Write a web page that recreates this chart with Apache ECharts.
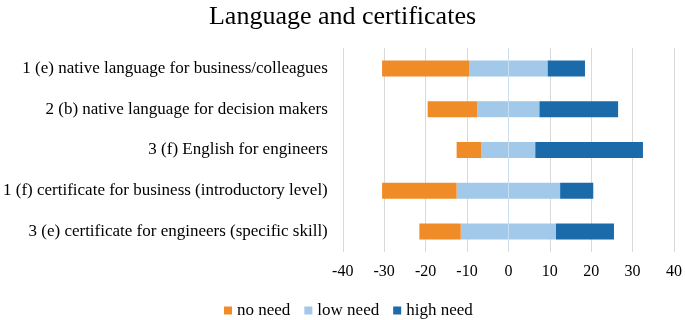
<!DOCTYPE html>
<html>
<head>
<meta charset="utf-8">
<script src="https://cdn.jsdelivr.net/npm/echarts@6/dist/echarts.min.js"></script>
<style>html,body{margin:0;padding:0;background:#fff}#c{width:685px;height:320px}</style>
</head>
<body>
<div id="c"></div>
<script>
var categories = [
  '1 (e) native language for business/colleagues',
  '2 (b) native language for decision makers',
  '3 (f) English for engineers',
  '1 (f) certificate for business (introductory level)',
  '3 (e) certificate for engineers (specific skill)'
];
var noNeed = [21, 12, 6, 18, 10];
var lowNeed = [19, 15, 13, 25, 23];
var highNeed = [9, 19, 26, 8, 14];
var tickValues = [-40, -30, -20, -10, 0, 10, 20, 30, 40];

var FONT = '"Liberation Serif", "DejaVu Serif", serif';
var C_NO = '#F08C28', C_LOW = '#A3C9EA', C_HIGH = '#1B6AAA';

var lowLeft = lowNeed.map(function (v) { return -v / 2; });
var lowRight = lowNeed.map(function (v) { return v / 2; });
var noNeg = noNeed.map(function (v) { return -v; });

var chart = echarts.init(document.getElementById('c'), null, { renderer: 'canvas' });
chart.setOption({
  animation: false,
  backgroundColor: '#fff',
  title: {
    text: 'Language and certificates',
    left: 'center', top: -1,
    textStyle: { fontFamily: FONT, fontSize: 26, fontWeight: 'normal', color: '#000' }
  },
  legend: {
    data: ['no need', 'low need', 'high need'],
    top: 297, left: 219,
    itemWidth: 8, itemHeight: 8, itemGap: 14,
    icon: 'rect',
    textStyle: { fontFamily: FONT, fontSize: 17, color: '#000' }
  },
  grid: { left: 341, right: 10, top: 48, bottom: 68, containLabel: false },
  xAxis: {
    type: 'value', min: -40, max: 40, interval: 10,
    axisLine: { show: false }, axisTick: { show: false },
    splitLine: { lineStyle: { color: '#d9d9d9', width: 1 } },
    axisLabel: {
      fontFamily: FONT, fontSize: 16, color: '#000', margin: 12,
      formatter: function (v) { return tickValues.indexOf(v) >= 0 ? String(v) : ''; }
    }
  },
  yAxis: {
    type: 'category', data: categories, inverse: true,
    axisLine: { show: false }, axisTick: { show: false },
    axisLabel: { fontFamily: FONT, fontSize: 17, color: '#000', margin: 15 }
  },
  series: [
    { name: 'low need', type: 'bar', stack: 'tot', data: lowLeft, barWidth: 16, itemStyle: { color: C_LOW },
      markLine: { silent: true, symbol: 'none', label: { show: false },
        lineStyle: { color: '#c9def0', width: 1, type: 'solid' }, data: [{ xAxis: 0 }] } },
    { name: 'low need', type: 'bar', stack: 'tot', data: lowRight, barWidth: 16, itemStyle: { color: C_LOW } },
    { name: 'no need', type: 'bar', stack: 'tot', data: noNeg, barWidth: 16, itemStyle: { color: C_NO } },
    { name: 'high need', type: 'bar', stack: 'tot', data: highNeed, barWidth: 16, itemStyle: { color: C_HIGH } }
  ]
});
</script>
</body>
</html>
